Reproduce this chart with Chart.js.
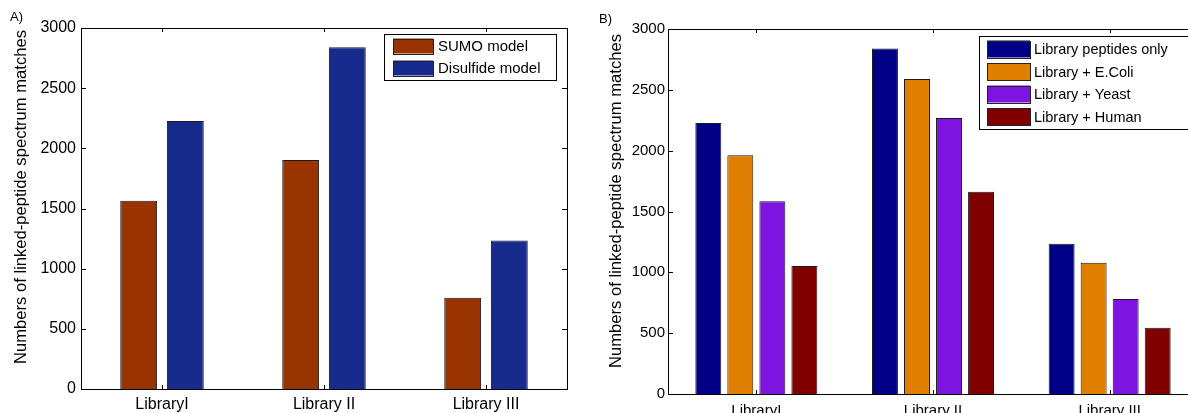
<!DOCTYPE html>
<html>
<head>
<meta charset="utf-8">
<script src="https://cdn.jsdelivr.net/npm/chart.js@4.4.1/dist/chart.umd.min.js"></script>
<style>
html, body { margin: 0; padding: 0; background: #fff; overflow: hidden; width: 1188px; height: 413px; }
.panel { position: absolute; top: 0; }
#wrapA { left: 0; width: 590px; height: 413px; }
#wrapB { left: 590px; width: 620px; height: 430px; }
.tag { position: absolute; font: 13px "Liberation Sans", Arial, sans-serif; line-height: 13px; color: #000; }
</style>
</head>
<body>
<div class="panel" id="wrapA"><canvas id="chartA" width="590" height="413"></canvas></div>
<div class="panel" id="wrapB"><canvas id="chartB" width="620" height="430"></canvas></div>
<div class="tag" style="left:10px;top:10px">A)</div>
<div class="tag" style="left:599px;top:12px">B)</div>
<script>
const libraries = ["LibraryI", "Library II", "Library III"];
const yTicks = [0, 500, 1000, 1500, 2000, 2500, 3000];
const yTitle = "Numbers of linked-peptide spectrum matches";

// panel A
const sumoModel = [1565, 1903, 759];
const disulfideModel = [2228, 2839, 1234];

// panel B
const peptidesOnly = [2228, 2839, 1234];
const plusEcoli = [1963, 2589, 1078];
const plusYeast = [1585, 2268, 781];
const plusHuman = [1053, 1662, 545];

const FONT = "'Liberation Sans', Arial, sans-serif";

// matlab style box with inward ticks, y title and boxed legend
const matlabBox = {
    id: "matlabBox",
    afterDatasetsDraw(chart, args, opts) {
        const ctx = chart.ctx;
        const a = chart.chartArea;
        const xs = chart.scales.x;
        const ys = chart.scales.y;
        ctx.save();
        ctx.strokeStyle = "#000";
        ctx.lineWidth = 1;
        const line = (x1, y1, x2, y2) => {
            ctx.beginPath();
            ctx.moveTo(x1, y1);
            ctx.lineTo(x2, y2);
            ctx.stroke();
        };
        ys.ticks.forEach(t => {
            const y = Math.round(ys.getPixelForValue(t.value)) + 0.5;
            line(a.left, y, a.left + 5, y);
            line(a.right - 5, y, a.right, y);
        });
        xs.ticks.forEach((t, i) => {
            const x = Math.round(xs.getPixelForTick(i)) + 0.5;
            line(x, a.bottom, x, a.bottom - 4);
            line(x, a.top, x, a.top + 4);
        });
        ctx.strokeRect(Math.round(a.left) + 0.5, Math.round(a.top) + 0.5,
            Math.round(a.right - a.left), Math.round(a.bottom - a.top));

        // y title
        ctx.fillStyle = "#000";
        ctx.font = opts.titleFont + "px " + FONT;
        ctx.textAlign = "center";
        ctx.textBaseline = "middle";
        ctx.translate(opts.titleX, opts.titleY);
        ctx.rotate(-Math.PI / 2);
        ctx.fillText(yTitle, 0, 0);
        ctx.restore();

        // legend
        const lg = opts.legend;
        ctx.save();
        ctx.fillStyle = "#fff";
        ctx.fillRect(lg.x, lg.y, lg.w, lg.h);
        ctx.strokeStyle = "#000";
        ctx.lineWidth = 1;
        ctx.strokeRect(lg.x + 0.5, lg.y + 0.5, lg.w, lg.h);
        ctx.font = lg.font + "px " + FONT;
        ctx.textAlign = "left";
        ctx.textBaseline = "middle";
        chart.data.datasets.forEach((ds, i) => {
            const cy = lg.y + lg.first + i * lg.step;
            ctx.fillStyle = ds.backgroundColor;
            ctx.fillRect(lg.sx, cy - lg.sh / 2, lg.sw, lg.sh);
            ctx.strokeStyle = "#222";
            ctx.strokeRect(lg.sx + 0.5, Math.round(cy - lg.sh / 2) + 0.5, lg.sw, lg.sh);
            ctx.fillStyle = "#000";
            ctx.fillText(ds.label, lg.tx, cy + 1);
        });
        ctx.restore();
    }
};

function makeOptions(cfg) {
    return {
        responsive: false,
        animation: false,
        layout: {
            padding: { top: cfg.top, right: cfg.right, left: 0, bottom: 0 }
        },
        plugins: {
            legend: { display: false },
            tooltip: { enabled: false },
            matlabBox: cfg.box
        },
        scales: {
            x: {
                grid: { display: false, drawTicks: false },
                border: { display: false },
                ticks: {
                    color: "#000",
                    padding: cfg.xPad,
                    font: { family: FONT, size: cfg.xFont }
                },
                afterFit: s => { s.height = cfg.xHeight; }
            },
            y: {
                min: 0,
                max: 3000,
                grid: { display: false, drawTicks: false },
                border: { display: false },
                afterBuildTicks: s => { s.ticks = yTicks.map(v => ({ value: v })); },
                ticks: {
                    color: "#000",
                    padding: cfg.yPad,
                    font: { family: FONT, size: cfg.yFont },
                    callback: v => String(v)
                },
                afterFit: s => { s.width = cfg.yWidth; }
            }
        }
    };
}

new Chart(document.getElementById("chartA"), {
    type: "bar",
    plugins: [matlabBox],
    data: {
        labels: libraries,
        datasets: [
            {
                label: "SUMO model",
                data: sumoModel,
                backgroundColor: "#993300",
                borderColor: "#1a1a1a",
                borderWidth: 1,
                categoryPercentage: 0.576,
                barPercentage: 0.79
            },
            {
                label: "Disulfide model",
                data: disulfideModel,
                backgroundColor: "#172B8C",
                borderColor: "#1a1a1a",
                borderWidth: 1,
                categoryPercentage: 0.576,
                barPercentage: 0.79
            }
        ]
    },
    options: makeOptions({
        top: 28, right: 23, xHeight: 24, yWidth: 81, xFont: 16, yFont: 16, yPad: 5, xPad: 6,
        box: {
            titleX: 21, titleY: 197, titleFont: 16.6,
            legend: { x: 384, y: 34, w: 172, h: 46, first: 12, step: 22,
                      sx: 393, sw: 40, sh: 15, tx: 438, font: 15 }
        }
    })
});

new Chart(document.getElementById("chartB"), {
    type: "bar",
    plugins: [matlabBox],
    data: {
        labels: libraries,
        datasets: [
            { label: "Library peptides only", data: peptidesOnly, backgroundColor: "#000087" },
            { label: "Library + E.Coli", data: plusEcoli, backgroundColor: "#E07F00" },
            { label: "Library + Yeast", data: plusYeast, backgroundColor: "#7E14E0" },
            { label: "Library + Human", data: plusHuman, backgroundColor: "#800000" }
        ].map(d => Object.assign(d, {
            borderColor: "#1a1a1a",
            borderWidth: 1,
            categoryPercentage: 0.725,
            barPercentage: 0.81
        }))
    },
    options: makeOptions({
        top: 29, right: 12, xHeight: 36, yWidth: 78, xFont: 15, yFont: 15, yPad: 3, xPad: 8,
        box: {
            titleX: 26, titleY: 201, titleFont: 16.6,
            legend: { x: 389, y: 36, w: 260, h: 93, first: 13, step: 22.5,
                      sx: 397, sw: 43, sh: 17, tx: 444, font: 14.5 }
        }
    })
});
</script>
</body>
</html>
